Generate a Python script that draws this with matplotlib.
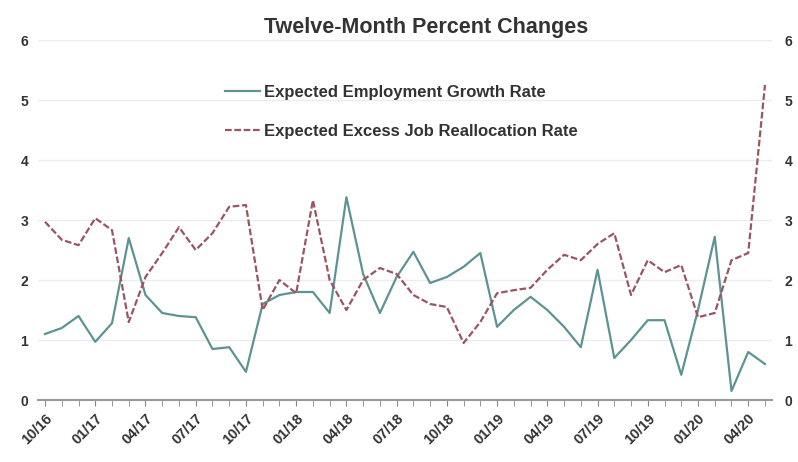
import matplotlib
matplotlib.use("Agg")
import matplotlib.pyplot as plt
import numpy as np

plt.rcParams['font.family'] = ['Liberation Sans', 'DejaVu Sans']

# Monthly observations, October 2016 through May 2020
months = ["10/16", "11/16", "12/16",
          "01/17", "02/17", "03/17", "04/17", "05/17", "06/17", "07/17", "08/17", "09/17", "10/17", "11/17", "12/17",
          "01/18", "02/18", "03/18", "04/18", "05/18", "06/18", "07/18", "08/18", "09/18", "10/18", "11/18", "12/18",
          "01/19", "02/19", "03/19", "04/19", "05/19", "06/19", "07/19", "08/19", "09/19", "10/19", "11/19", "12/19",
          "01/20", "02/20", "03/20", "04/20", "05/20"]

employment_growth = [1.10, 1.20, 1.40, 0.97, 1.28, 2.70, 1.75, 1.45, 1.40, 1.38, 0.85,
                     0.88, 0.47, 1.60, 1.75, 1.80, 1.80, 1.45, 3.38, 2.10, 1.45, 2.05,
                     2.47, 1.95, 2.05, 2.22, 2.45, 1.22, 1.50, 1.72, 1.50, 1.22, 0.88,
                     2.17, 0.70, 1.00, 1.33, 1.33, 0.42, 1.50, 2.72, 0.15, 0.80, 0.60]

excess_reallocation = [2.97, 2.67, 2.58, 3.03, 2.83, 1.30, 2.05, 2.45, 2.88, 2.50, 2.78,
                       3.22, 3.25, 1.50, 2.00, 1.78, 3.33, 2.00, 1.50, 2.00, 2.20, 2.10,
                       1.75, 1.60, 1.55, 0.95, 1.30, 1.78, 1.83, 1.87, 2.17, 2.42, 2.33,
                       2.60, 2.78, 1.75, 2.33, 2.13, 2.25, 1.38, 1.45, 2.33, 2.45, 5.25]

title = "Twelve-Month Percent Changes"
label_emp = "Expected Employment Growth Rate"
label_realloc = "Expected Excess Job Reallocation Rate"
y_ticks = [0, 1, 2, 3, 4, 5, 6]

emp_color = "#5e9393"
realloc_color = "#9a5563"
text_color = "#333333"

fig = plt.figure(figsize=(7.98, 4.62), dpi=100)
W, H = 798, 462
left_px, right_px, top_px, bottom_px = 38, 772, 40, 400
ax = fig.add_axes([left_px / W, 1 - bottom_px / H,
                   (right_px - left_px) / W, (bottom_px - top_px) / H])

x = np.arange(len(months))
ax.plot(x, employment_growth, color=emp_color, lw=1.6, label=label_emp)
ax.plot(x, excess_reallocation, color=realloc_color, lw=1.6,
        dashes=(3, 1.2), label=label_realloc)

ax.set_ylim(0, 6)
ax.set_xlim(-0.42, len(months) - 1 + 0.42)
ax.set_yticks(y_ticks)
ax.set_yticklabels([str(v) for v in y_ticks], fontsize=10, fontweight='bold', color=text_color)
ax.tick_params(axis='y', length=0, pad=7)

# duplicate value scale on the right-hand side
axr = ax.twinx()
axr.set_ylim(ax.get_ylim())
axr.set_yticks(y_ticks)
axr.set_yticklabels([str(v) for v in y_ticks], fontsize=10, fontweight='bold', color=text_color)
axr.tick_params(axis='y', length=0, pad=9)
for s in axr.spines.values():
    s.set_visible(False)

ax.set_xticks(x, minor=True)
ax.set_xticks(x[::3])
ax.set_xticklabels(months[::3], rotation=45, ha='right', rotation_mode='anchor',
                   fontsize=10.5, fontweight='bold', color=text_color)
ax.tick_params(axis='x', which='major', length=4, color='#888888', pad=4)
ax.tick_params(axis='x', which='minor', length=4, color='#888888')

for s in ['top', 'left', 'right']:
    ax.spines[s].set_visible(False)
ax.spines['bottom'].set_color('#9a9a9a')
ax.spines['bottom'].set_linewidth(1.5)

ax.grid(axis='y', color='#ececec', lw=1.0)
ax.set_axisbelow(True)

fig.text(426 / W, 1 - 28 / H, title, ha='center', va='center',
         fontsize=15.5, fontweight='bold', color=text_color)

leg = ax.legend(loc='upper left', bbox_to_anchor=((210 - left_px) / (right_px - left_px),
                                                   (bottom_px - 70) / (bottom_px - top_px)),
                frameon=False, handlelength=2.1, handletextpad=0.25, labelspacing=1.45,
                prop={'size': 12, 'weight': 'bold'})
for t in leg.get_texts():
    t.set_color(text_color)

fig.savefig("out.png", dpi=100)
